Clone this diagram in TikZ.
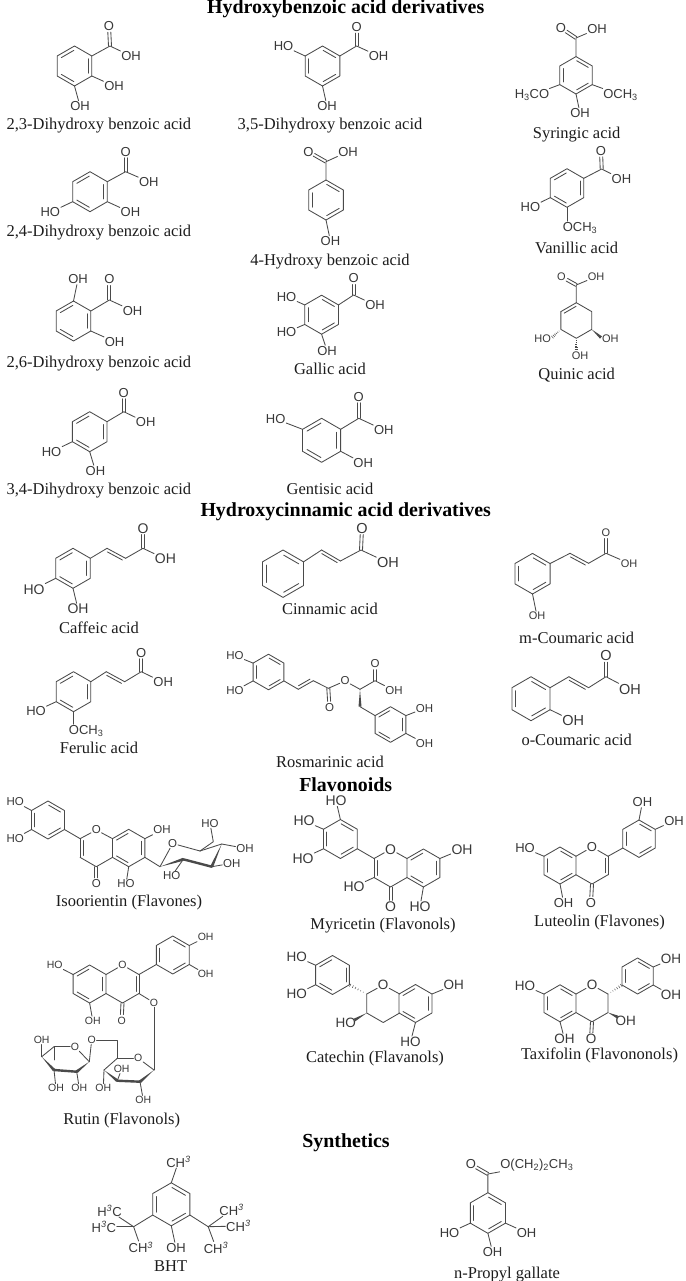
\documentclass[tikz,border=0pt]{standalone}
\usepackage{fontspec}
\setmainfont{Liberation Serif}
\newfontfamily\labfont{Liberation Sans}
\usetikzlibrary{calc}
\definecolor{bondc}{HTML}{4A4A4A}
\definecolor{atomc}{HTML}{383838}
\definecolor{capc}{HTML}{1C1C1C}
\def\asize{13}
\tikzset{
  bond/.style={line width=0.85pt,draw=bondc,line cap=round,line join=round},
  atm/.style={inner sep=0.6pt,text=atomc,font=\labfont\fontsize{\asize}{\asize}\selectfont},
  capt/.style={inner sep=0pt,yshift=-1.5pt,text=capc,font=\fontsize{16.5}{17}\selectfont},
  ttl/.style={inner sep=0pt,text=black,font=\bfseries\fontsize{19.9}{20}\selectfont}
}
\newcommand{\hexv}[4]{\coordinate (#1c) at (#2,#3);
  \foreach \i/\a in {1/90,2/30,3/-30,4/-90,5/-150,6/150}{
    \coordinate (#1\i) at ({#2+#4*cos(\a)},{#3-#4*sin(\a)});}}
\newcommand{\ring}[5]{\hexv{#1}{#2}{#3}{#4}
  \draw[bond] (#11)--(#12)--(#13)--(#14)--(#15)--(#16)--cycle;
  \inn{#1}{#5}}
\newcommand{\inn}[2]{\foreach \d in {#2}{\pgfmathtruncatemacro\e{mod(\d,6)+1}
    \draw[bond,shorten <=0.8pt,shorten >=0.8pt] ($(#1c)!0.8!(#1\d)$) -- ($(#1c)!0.8!(#1\e)$);}}
\newcommand{\at}[4]{\node[atm] (#1) at (#2,#3) {#4};}
\newcommand{\bd}[2]{\draw[bond] (#1)--(#2);}
\newcommand{\dO}[2]{\draw[bond,shorten >=6.2pt] ($(#1)!1.5pt!90:(#2)$) -- ($(#2)!1.5pt!-90:(#1)$);
  \draw[bond,shorten >=6.2pt] ($(#1)!1.5pt!-90:(#2)$) -- ($(#2)!1.5pt!90:(#1)$);}
\newcommand{\dside}[3]{\draw[bond] (#1)--(#2);
  \draw[bond,shorten <=2pt,shorten >=2pt] ($(#1)!3pt!#3:(#2)$) -- ($(#2)!3pt!-#3:(#1)$);}
\newcommand{\cooh}[8]{\coordinate (#1C) at (#3,#4); \at{#1O}{#5}{#6}{O} \at{#1H}{#7}{#8}{OH}
  \draw[bond] (#2)--(#1C)--(#1H); \dO{#1C}{#1O}}
\newcommand{\wed}[2]{\fill[bondc] (#1) -- ($(#2)!1.5pt!90:(#1)$) -- ($(#2)!1.5pt!-90:(#1)$) -- cycle;}
\newcommand{\hash}[2]{\foreach \t in {0.2,0.35,0.5,0.65,0.8,0.95}{
  \draw[bondc,line width=0.5pt] ($(#1)!\t!($(#2)!1.7pt!90:(#1)$)$) -- ($(#1)!\t!($(#2)!1.7pt!-90:(#1)$)$);}}
\newcommand{\bold}[2]{\draw[bond,line width=2.4pt] (#1)--(#2);}
\newcommand{\capn}[4]{\node[capt] (#1) at (#2,#3) {#4};}
\newcommand{\tit}[4]{\node[ttl] (#1) at (#2,#3) {#4};}
\newcommand{\sbs}[1]{\textsubscript{#1}}
\newcommand{\sps}[1]{\textsuperscript{\itshape #1}}
\begin{document}
\begin{tikzpicture}[x=1pt,y=-1pt]
\fill[white] (0,0) rectangle (685,1281);
\useasboundingbox (0,0) rectangle (685,1281);
% titles
\tit{t1}{345.7}{8.8}{Hydroxybenzoic acid derivatives}
\tit{t2}{345.7}{512}{Hydroxycinnamic acid derivatives}
\tit{t3}{345.7}{785}{Flavonoids}
\tit{t4}{346}{1143}{Synthetics}
% 2,3-DHBA
\ring{a}{74.5}{66}{20}{2,4,6}
\cooh{aa}{a2}{110}{46}{109}{26}{131}{56}
\at{ab}{114}{86}{OH}\bd{a3}{ab}
\at{ad}{80}{106}{OH}\bd{a4}{ad}
\capn{ca}{98.9}{124}{2,3-Dihydroxy benzoic acid}
% 3,5-DHBA
\ring{b}{322.5}{66}{20}{1,3,5}
\cooh{ba}{b2}{356.6}{46}{356.6}{27}{378.5}{56}
\at{bb}{283.5}{46}{HO}\bd{b6}{bb}
\at{bd}{327}{106}{OH}\bd{b4}{bd}
\capn{cb}{330}{124}{3,5-Dihydroxy benzoic acid}
% Syringic
\ring{c}{576}{75.3}{18.7}{1,3,5}
\cooh{ca}{c1}{576}{38}{561}{28}{597}{29}
\at{cb}{532}{95}{H\sbs{3}CO}\bd{c5}{cb}
\at{cd}{620.5}{95}{OCH\sbs{3}}\bd{c3}{cd}
\at{ce}{580}{113}{OH}\bd{c4}{ce}
\capn{cc}{576.7}{132.6}{Syringic acid}
% 2,4-DHBA
\ring{d}{90}{191.7}{20}{2,4,6}
\cooh{da}{d2}{125.6}{171.7}{125.6}{151.7}{148.8}{181.7}
\at{db}{50.3}{212.3}{HO}\bd{d5}{db}
\at{dd}{130.4}{212.3}{OH}\bd{d3}{dd}
\capn{cd0}{98.9}{231}{2,4-Dihydroxy benzoic acid}
% 4-HBA
\ring{e}{326}{200}{20}{1,3,5}
\cooh{ea}{e1}{326}{161.7}{308.5}{151.7}{348}{151.7}
\at{eb}{330.4}{241}{OH}\bd{e4}{eb}
\capn{ce0}{330}{260}{4-Hydroxy benzoic acid}
% Vanillic
\ring{f}{567}{188}{19.3}{2,4,6}
\cooh{fa}{f2}{601.7}{169}{601}{150.7}{621.4}{179}
\at{fb}{530.4}{207.3}{HO}\bd{f5}{fb}
\at{fd}{580}{227.7}{OCH\sbs{3}}\coordinate (fde) at (fd.north -| f4);\bd{f4}{fde}
\capn{cf}{576.7}{246.3}{Vanillic acid}
% 2,6-DHBA
\ring{g}{73.5}{321}{20}{2,4,6}
\cooh{ga}{g2}{109.4}{300}{109.4}{279.3}{132.6}{310.7}
\at{gb}{78}{279.3}{OH}\bd{g1}{gb}
\at{gd}{114.6}{341.7}{OH}\bd{g3}{gd}
\capn{cg}{98.9}{361.7}{2,6-Dihydroxy benzoic acid}
% Gallic
\ring{h}{321.6}{314.7}{19.5}{1,3,5}
\cooh{ha}{h2}{353.6}{295}{353.6}{278.3}{375}{305}
\at{hb}{286.6}{296.7}{HO}\bd{h6}{hb}
\at{hd}{286.6}{332.3}{HO}\bd{h5}{hd}
\at{he}{327}{350.7}{OH}\bd{h4}{he}
\capn{ch}{330}{367.3}{Gallic acid}
% Quinic
\def\asize{11}
\hexv{i}{576.3}{320.5}{17.8}
\draw[bond] (i1)--(i2)--(i3)--(i4)--(i5)--(i6);
\dside{i6}{i1}{-90}
\cooh{ia}{i1}{576.3}{285}{561.4}{276.7}{596}{276.7}
\at{ib}{542.6}{338.3}{HO}\coordinate (ibe) at (552,337.5);\hash{i5}{ibe}
\at{id}{610.4}{338.3}{OH}\coordinate (ide) at (601,337.5);\wed{i3}{ide}
\at{ie}{580}{356}{OH}\coordinate (iee) at (576.3,350);\hash{i4}{iee}
\capn{ci}{576.7}{373.7}{Quinic acid}
\def\asize{13}
% 3,4-DHBA
\ring{j}{89.7}{431.7}{20}{2,4,6}
\cooh{ja}{j2}{123.8}{411.7}{123.8}{392.7}{145.7}{422.3}
\at{jb}{51.6}{451.7}{HO}\bd{j5}{jb}
\at{jd}{95.4}{470.7}{OH}\bd{j4}{jd}
\capn{cj}{98.9}{489}{3,4-Dihydroxy benzoic acid}
% Gentisic
\ring{k}{321.6}{440.3}{22}{2,4,6}
\cooh{ka}{k2}{358.8}{418.3}{358.8}{396.7}{383.8}{430}
\at{kb}{275.7}{419}{HO}\bd{k6}{kb}
\at{kd}{363.2}{463.3}{OH}\bd{k3}{kd}
\capn{ck}{330}{487}{Gentisic acid}
% Caffeic
\ring{l}{73}{568.3}{20}{2,4,6}
\coordinate (la1) at (107,548.3);\coordinate (la2) at (125.6,558.3);
\bd{l2}{la1}\dside{la1}{la2}{-90}
\def\asize{14}
\cooh{lc}{la2}{143}{548.3}{143}{528.3}{165.4}{559}
\at{lb}{34}{589.3}{HO}\bd{l5}{lb}
\at{ld}{78}{609}{OH}\bd{l4}{ld}
\def\asize{13}
\capn{cl}{99}{626}{Caffeic acid}
% Cinnamic
\ring{m}{283}{573.7}{23.7}{1,3,5}
\coordinate (ma1) at (321.6,550);\coordinate (ma2) at (340.4,561);
\bd{m2}{ma1}\dside{ma1}{ma2}{-90}
\def\asize{14.5}
\cooh{mc}{ma2}{361}{550}{362}{528.3}{388}{562.7}
\def\asize{13}
\capn{cm}{330}{607}{Cinnamic acid}
% m-Coumaric
\ring{n}{532.5}{573.7}{20.3}{1,3,5}
\coordinate (na1) at (570,553.3);\coordinate (na2) at (588.6,563.3);
\bd{n2}{na1}\dside{na1}{na2}{-90}
\def\asize{11}
\cooh{nc}{na2}{606}{553.3}{606}{532.3}{629}{563.3}
\at{nb}{537}{616}{OH}\bd{n4}{nb}
\def\asize{13}
\capn{cn}{576.7}{636.3}{m-Coumaric acid}
% Ferulic
\ring{o}{73.5}{691.7}{20}{2,4,6}
\coordinate (oa1) at (106.3,671.7);\coordinate (oa2) at (124.7,681.7);
\bd{o2}{oa1}\dside{oa1}{oa2}{-90}
\cooh{oc}{oa2}{141.3}{671.7}{141.3}{652.7}{163.2}{682.3}
\at{ob}{36}{711}{HO}\bd{o5}{ob}
\at{od}{86.2}{730.7}{OCH\sbs{3}}\coordinate (ode) at (od.north -| o4);\bd{o4}{ode}
\capn{co}{99}{746}{Ferulic acid}
% Rosmarinic
\def\asize{11.5}
\ring{p}{268.5}{672}{17.8}{1,3,5}
\at{pb}{235}{655.7}{HO}\bd{p6}{pb}
\at{pd}{235}{690.7}{HO}\bd{p5}{pd}
\coordinate (pa1) at (298.3,689.3);\coordinate (pa2) at (313.3,680.7);\coordinate (pa3) at (328.3,688.3);
\bd{p3}{pa1}\dside{pa1}{pa2}{90}\bd{pa2}{pa3}
\at{pO}{329.5}{707.5}{O}\dO{pa3}{pO}
\at{pE}{345}{681}{O}\bd{pa3}{pE}
\coordinate (pa4) at (360,689.3);\bd{pE}{pa4}
\cooh{pf}{pa4}{375}{680.7}{375}{663.5}{394}{690.5}
\coordinate (pa5) at (360,706.7);\wed{pa4}{pa5}
\ring{q}{390.5}{724.5}{17.8}{2,4,6}
\bd{pa5}{q6}
\at{qb}{424.5}{708.3}{OH}\bd{q2}{qb}
\at{qd}{424.5}{743.3}{OH}\bd{q3}{qd}
\def\asize{13}
\capn{cp}{330}{760}{Rosmarinic acid}
% o-Coumaric
\ring{r}{531}{698.7}{22}{1,3,5}
\coordinate (ra1) at (568.9,676.7);\coordinate (ra2) at (588.6,687.7);
\bd{r2}{ra1}\dside{ra1}{ra2}{-90}
\def\asize{14.5}
\cooh{rc}{ra2}{606}{676.7}{606}{656}{630}{689.3}
\at{rb}{573.2}{721}{OH}\bd{r3}{rb}
\def\asize{13}
\capn{cr}{576.7}{738.3}{o-Coumaric acid}
% Isoorientin
\def\asize{11.5}
\ring{s}{48}{820}{19}{1,3,5}
\at{sb}{15.3}{801.7}{HO}\bd{s6}{sb}
\at{sd}{15.3}{838.3}{HO}\bd{s5}{sd}
\hexv{u}{96.3}{848}{18.7}
\at{uO}{96.3}{830}{O}
\draw[bond] (u2)--(uO)--(u6);\draw[bond] (u5)--(u4)--(u3);
\dside{u5}{u6}{-90}
\at{uX}{96.3}{884}{O}\dO{u4}{uX}
\bd{s3}{u6}
\ring{v}{128.7}{848}{18.7}{2,4,6}
\at{vb}{162}{830}{OH}\bd{v2}{vb}
\at{vd}{126}{884}{HO}\bd{v4}{vd}
\coordinate (w1) at (160,866.7);\at{wO}{172.7}{843.5}{O}
\coordinate (w5) at (200,851);\coordinate (w4) at (221.7,844);
\coordinate (w3) at (211.7,866.7);\coordinate (w2) at (183.3,859.3);
\bd{v3}{w1}\bd{w1}{wO}\bd{wO}{w5}\bd{w5}{w4}
\wed{w1}{w2}\bold{w2}{w3}\wed{w4}{w3}
\at{wa}{171.7}{876}{HO}\bd{w2}{wa}
\at{wb}{231.7}{863.3}{OH}\bd{w3}{wb}
\at{wd}{245}{848.3}{OH}\bd{w4}{wd}
\coordinate (w6) at (213.3,841.7);\at{we}{210}{823.3}{HO}
\draw[bond] (w5)--(w6)--(we);
\def\asize{13}
\capn{cs}{129}{901.3}{Isoorientin (Flavones)}
% Myricetin
\def\asize{14}
\ring{x}{340.4}{839}{19.5}{1,3,5}
\at{xa}{336}{800.7}{HO}\bd{x1}{xa}
\at{xb}{304}{820.7}{HO}\bd{x6}{xb}
\at{xd}{303}{858.3}{HO}\bd{x5}{xd}
\hexv{y}{390.5}{868}{19}
\at{yO}{390.5}{849.3}{O}
\draw[bond] (y2)--(yO)--(y6);\draw[bond] (y5)--(y4)--(y3);
\dside{y5}{y6}{-90}
\bd{x3}{y6}
\at{yX}{390.5}{906.5}{O}\dO{y4}{yX}
\at{yb}{354}{886.7}{HO}\bd{y5}{yb}
\ring{z}{423.4}{868}{19}{2,4,6}
\at{zb}{462}{849.3}{OH}\bd{z2}{zb}
\at{zd}{420}{906.7}{HO}\bd{z4}{zd}
\def\asize{13}
\capn{cx}{383}{923.7}{Myricetin (Flavonols)}
% Luteolin
\ring{Aa}{560}{865.5}{18.5}{1,3,5}
\at{Ab}{525}{848.3}{HO}\bd{Aa6}{Ab}
\at{Ad}{563.6}{902.7}{OH}\bd{Aa4}{Ad}
\hexv{Ac}{592}{865.5}{18.5}
\at{AO}{592}{847}{O}
\draw[bond] (Ac6)--(AO)--(Ac2);\draw[bond] (Ac3)--(Ac4)--(Ac5);
\dside{Ac2}{Ac3}{-90}
\at{AX}{591}{902.7}{O}\dO{Ac4}{AX}
\ring{Ae}{639}{838.7}{18.7}{1,3,5}
\bd{Ac2}{Ae5}
\at{Af}{642.4}{802.3}{OH}\bd{Ae1}{Af}
\at{Ag}{674}{820.7}{OH}\bd{Ae2}{Ag}
\capn{cAa}{599.5}{921}{Luteolin (Flavones)}
% Rutin
\def\asize{10.5}
\ring{Ba}{172.8}{955}{19}{1,3,5}
\at{Bb}{205.7}{937.3}{OH}\bd{Ba2}{Bb}
\at{Bd}{205.7}{974}{OH}\bd{Ba3}{Bd}
\hexv{Bc}{122.5}{984}{19}
\at{BO}{122.5}{965}{O}
\draw[bond] (Bc2)--(BO)--(Bc6);\draw[bond] (Bc3)--(Bc4)--(Bc5);
\dside{Bc2}{Bc3}{-90}
\bd{Ba5}{Bc2}
\ring{Be}{89.6}{984}{19}{2,4,6}
\at{Bf}{54.7}{965}{HO}\bd{Be6}{Bf}
\at{Bg}{92.8}{1020.7}{OH}\bd{Be4}{Bg}
\at{BX}{121.6}{1020.7}{O}\dO{Bc4}{BX}
\at{BL}{154}{1002.7}{O}\bd{Bc3}{BL}
\coordinate (Bs1) at (154,1070);\at{BsO}{138.3}{1058.3}{O}
\coordinate (Bs2) at (140,1081.7);\coordinate (Bs3) at (117.3,1080.7);
\coordinate (Bs4) at (104,1070);\coordinate (Bs5) at (117.3,1058.3);
\bd{BL}{Bs1}\bd{Bs1}{BsO}\bd{BsO}{Bs5}\bd{Bs5}{Bs4}
\wed{Bs1}{Bs2}\bold{Bs2}{Bs3}\wed{Bs4}{Bs3}
\coordinate (Bs6) at (117.3,1040);\at{BsL}{91.7}{1040}{O}
\draw[bond] (Bs5)--(Bs6)--(BsL);
\coordinate (Bt1) at (89.3,1061.7);\at{BtO}{75}{1046.7}{O}
\coordinate (Bt2) at (76.7,1071.7);\coordinate (Bt3) at (54,1070);
\coordinate (Bt4) at (41.7,1056.7);\coordinate (Bt5) at (54,1046.7);\coordinate (Bt6) at (54,1060);
\bd{BsL}{Bt1}\bd{Bt1}{BtO}\bd{BtO}{Bt5}\bd{Bt5}{Bt4}\bd{Bt5}{Bt6}
\wed{Bt1}{Bt2}\bold{Bt2}{Bt3}\wed{Bt4}{Bt3}
\at{Bu}{41.7}{1040}{OH}\bd{Bt4}{Bu}
\at{Bv}{56}{1088.3}{OH}\bd{Bt3}{Bv}
\at{Bw}{79.3}{1088.3}{OH}\bd{Bt2}{Bw}
\at{Bx}{103.3}{1088.3}{OH}\bd{Bs4}{Bx}
\at{By}{121.7}{1069}{OH}\bd{Bs3}{By}
\at{Bz}{143.3}{1100}{OH}\bd{Bs2}{Bz}
\def\asize{13}
\capn{cBa}{121.7}{1119}{Rutin (Flavonols)}
% Catechin
\def\asize{13.5}
\ring{Ca}{332.5}{975}{19.5}{2,4,6}
\at{Cb}{296.7}{956.7}{HO}\bd{Ca6}{Cb}
\at{Cd}{296.7}{994}{HO}\bd{Ca5}{Cd}
\hexv{Cc}{383.2}{1003.5}{19}
\at{CO}{383.2}{985}{O}
\draw[bond] (Cc2)--(CO)--(Cc6);\draw[bond] (Cc6)--(Cc5)--(Cc4)--(Cc3);
\hash{Cc6}{Ca3}
\ring{Ce}{415.5}{1003.5}{19}{2,4,6}
\at{Cf}{453.8}{985}{OH}\bd{Ce2}{Cf}
\at{Cg}{410.5}{1041.7}{HO}\bd{Ce4}{Cg}
\at{Ch}{345.7}{1022.7}{HO}\coordinate (Che) at (354.5,1020);\wed{Cc5}{Che}
\def\asize{13}
\capn{cCa}{375}{1056.7}{Catechin (Flavanols)}
% Taxifolin
\def\asize{13.5}
\ring{Da}{560}{1003.3}{18.5}{1,3,5}
\at{Db}{525}{985.7}{HO}\bd{Da6}{Db}
\at{Dd}{564.5}{1039}{OH}\bd{Da4}{Dd}
\hexv{Dc}{592}{1003.3}{18.5}
\at{DO}{592}{985}{O}
\draw[bond] (Dc6)--(DO)--(Dc2);\draw[bond] (Dc2)--(Dc3)--(Dc4)--(Dc5);
\at{DX}{591}{1039}{O}\dO{Dc4}{DX}
\ring{De}{637.6}{976}{18}{1,3,5}
\hash{Dc2}{De5}
\at{Df}{671}{959.3}{OH}\bd{De2}{Df}
\at{Dg}{671}{995}{OH}\bd{De3}{Dg}
\at{Dh}{625.8}{1021}{OH}\coordinate (Dhe) at (617.5,1017);\wed{Dc3}{Dhe}
\def\asize{13}
\capn{cDa}{599.5}{1054}{Taxifolin (Flavononols)}
% BHT
\ring{Ea}{171.3}{1204.3}{21.5}{1,3,5}
\at{Eb}{178.5}{1161.7}{CH\sps{3}}\bd{Ea1}{Eb}
\coordinate (El) at (133.6,1226.7);\coordinate (Er) at (208.2,1226.7);
\bd{Ea5}{El}\bd{Ea3}{Er}
\at{Ec}{109.5}{1210.7}{H\sps{3}C}\bd{El}{Ec}
\at{Ed}{103.8}{1226.7}{H\sps{3}C}\bd{El}{Ed}
\at{Ee}{140.8}{1247.3}{CH\sps{3}}\bd{El}{Ee}
\at{Ef}{231.6}{1210}{CH\sps{3}}\bd{Er}{Ef}
\at{Eg}{238.4}{1226}{CH\sps{3}}\bd{Er}{Eg}
\at{Eh}{216}{1247.7}{CH\sps{3}}\bd{Er}{Eh}
\at{Ei}{176}{1247.7}{OH}\bd{Ea4}{Ei}
\capn{cEa}{170.6}{1264.2}{BHT}
% n-Propyl gallate
\ring{Fa}{487.9}{1213}{20.3}{1,3,5}
\coordinate (FC) at (487.9,1174);\at{FO}{471}{1164.3}{O}
\node[atm,anchor=west] (Fb) at (499.5,1165) {O(CH\sbs{2})\sbs{2}CH\sbs{3}};
\draw[bond] (Fa1)--(FC)--(Fb);\dO{FC}{FO}
\at{Fc}{449.5}{1232.7}{HO}\bd{Fa5}{Fc}
\at{Fd}{526.6}{1232.7}{OH}\bd{Fa3}{Fd}
\at{Fe}{492.5}{1251.7}{OH}\bd{Fa4}{Fe}
\capn{cFa}{507}{1273}{n-Propyl gallate}
\end{tikzpicture}
\end{document}
